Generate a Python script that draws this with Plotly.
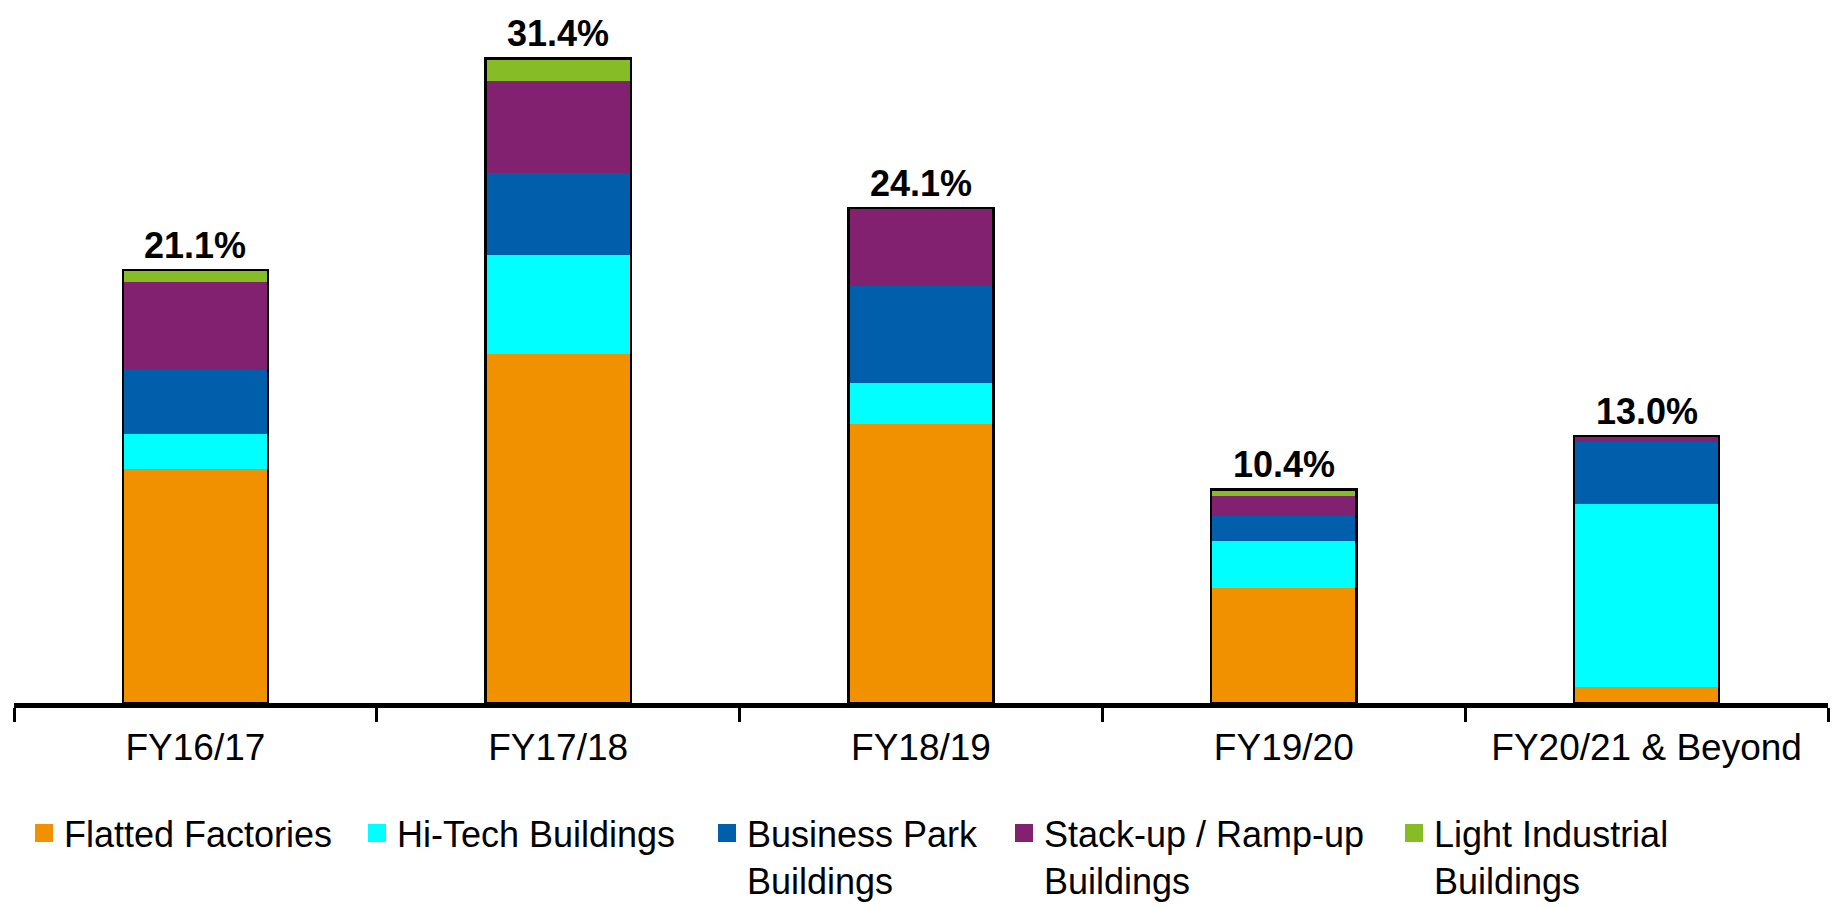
import plotly.graph_objects as go

categories = ["FY16/17", "FY17/18", "FY18/19", "FY19/20", "FY20/21 & Beyond"]

flatted_factories = [11.4, 17.0, 13.6, 5.6, 0.8]
hi_tech_buildings = [1.7, 4.8, 2.0, 2.3, 8.9]
business_park = [3.1, 4.0, 4.7, 1.2, 3.0]
stack_up_ramp_up = [4.3, 4.5, 3.8, 1.0, 0.3]
light_industrial = [0.6, 1.1, 0.0, 0.3, 0.0]

series_names = ["Flatted Factories", "Hi-Tech Buildings", "Business Park<br>Buildings",
                "Stack-up / Ramp-up<br>Buildings", "Light Industrial<br>Buildings"]
series_values = [flatted_factories, hi_tech_buildings, business_park, stack_up_ramp_up, light_industrial]
series_colors = ["#F29100", "#00FFFF", "#005EAB", "#82216F", "#86BC25"]

totals = [round(sum(v), 1) for v in zip(*series_values)]
total_labels = [f"{t:.1f}%" for t in totals]

W, H = 1835, 907
ML, MR, MT, MB = 14, 7, 10, 204
PW = W - ML - MR
PH = H - MT - MB
FONT = "Liberation Sans, Arial, sans-serif"

fig = go.Figure()

for name, vals, col in zip(series_names, series_values, series_colors):
    fig.add_trace(go.Bar(x=categories, y=vals, name=name, marker=dict(color=col, line=dict(width=0)),
                         showlegend=False, hoverinfo="name+y"))

# outer outline of each stacked bar
fig.add_trace(go.Bar(x=categories, y=totals, xaxis="x2", yaxis="y2", showlegend=False,
                     marker=dict(color="rgba(0,0,0,0)", line=dict(color="black", width=2.5)),
                     hoverinfo="skip"))

# legend entries (one legend each, placed individually)
legend_px = [24, 357, 707, 1004, 1394]
legend_ids = ["legend", "legend2", "legend3", "legend4", "legend5"]
for name, col, lid in zip(series_names, series_colors, legend_ids):
    fig.add_trace(go.Scatter(x=[None], y=[None], mode="markers", name=name, legend=lid,
                             marker=dict(symbol="square", size=16, color=col, line=dict(color=col, width=2))))

leg_y = -(803 - (MT + PH)) / PH
for lid, px in zip(legend_ids, legend_px):
    fig.layout[lid] = dict(x=(px - ML) / PW, y=leg_y, xanchor="left", yanchor="top",
                           font=dict(family=FONT, size=36, color="black"),
                           bgcolor="rgba(0,0,0,0)", valign="top", orientation="v")

for c, lab, t in zip(categories, total_labels, totals):
    fig.add_annotation(x=c, y=t, text=f"<b>{lab}</b>", showarrow=False, yanchor="bottom",
                       yshift=2, font=dict(family=FONT, size=36, color="black"))

yr = [0, 33.75]
fig.update_layout(
    width=W, height=H,
    margin=dict(l=ML, r=MR, t=MT, b=MB, autoexpand=False),
    barmode="stack", bargap=0.6,
    plot_bgcolor="white", paper_bgcolor="white",
    font=dict(family=FONT, size=37, color="black"),
    xaxis=dict(showline=True, linecolor="black", linewidth=5, ticks="outside", tickson="boundaries",
               ticklen=14, tickwidth=3, tickcolor="black", showgrid=False, zeroline=False,
               ticklabelstandoff=8, automargin=False,
               tickfont=dict(family=FONT, size=37, color="black")),
    yaxis=dict(range=yr, visible=False, showgrid=False, zeroline=False, automargin=False),
    xaxis2=dict(overlaying="x", matches="x", visible=False),
    yaxis2=dict(overlaying="y", range=yr, visible=False),
)

fig.write_html("out.html", config={"displayModeBar": False},
               post_script="document.body.style.margin='0';document.body.style.overflow='hidden';")
